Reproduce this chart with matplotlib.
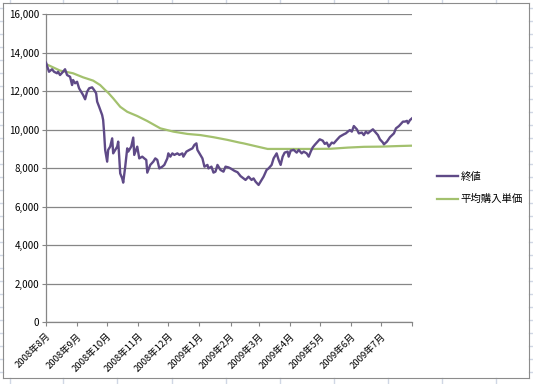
import matplotlib
matplotlib.use("Agg")
import matplotlib.pyplot as plt
import matplotlib.dates as mdates
from matplotlib.lines import Line2D
from matplotlib.ticker import FuncFormatter, MultipleLocator
import pandas as pd

plt.rcParams['font.family'] = ['Noto Sans CJK JP', 'DejaVu Sans']

start = pd.Timestamp("2008-08-01")
end = pd.Timestamp("2009-08-01")

# closing price: (days since 2008-08-01, value)
close_days = [0, 3, 6, 8, 11, 12, 14, 17, 19, 21, 24, 26, 27, 29, 31, 33, 36, 37, 39, 41,
              43, 46, 48, 50, 51, 53, 56, 57, 58, 59, 61, 62, 64, 66, 67, 69, 71, 72, 73, 74,
              76, 77, 79, 81, 82, 85, 87, 88, 91, 93, 96, 98, 100, 101, 104, 107, 109, 111, 113, 116,
              118, 121, 122, 124, 126, 128, 131, 133, 136, 137, 140, 143, 146, 148, 150, 151, 154, 156, 158, 161,
              162, 165, 167, 169, 171, 174, 177, 179, 182, 184, 188, 191, 194, 197, 199, 202, 205, 207, 209, 212,
              215, 217, 220, 222, 225, 227, 230, 232, 234, 236, 238, 241, 242, 244, 247, 250, 252, 255, 257, 260,
              262, 264, 266, 268, 271, 273, 276, 278, 280, 282, 285, 287, 290, 293, 297, 299, 301, 303, 305, 307,
              310, 312, 315, 317, 319, 321, 323, 326, 328, 331, 333, 336, 337, 340, 343, 347, 349, 352, 356, 358,
              360, 361, 363, 365]
close_vals = [13470, 13000, 13130, 13000, 12920, 13000, 12830, 13000, 13130, 12830, 12740, 12310, 12570, 12400, 12480, 12140, 11880, 11790, 11570, 11960,
              12140, 12190, 12050, 11880, 11450, 11180, 10750, 10490, 9800, 8940, 8330, 8940, 9110, 9540, 8760, 8940, 9110, 9370, 8590, 7720,
              7460, 7240, 8070, 9020, 8850, 9110, 9580, 8680, 9110, 8500, 8590, 8500, 8420, 7760, 8160, 8330, 8500, 8420, 7980, 8070,
              8160, 8500, 8760, 8590, 8760, 8680, 8760, 8680, 8760, 8590, 8850, 8940, 9020, 9200, 9280, 8940, 8680, 8500, 8070, 8160,
              7980, 8070, 7760, 7810, 8160, 7900, 7810, 8070, 8030, 7980, 7850, 7780, 7580, 7460, 7380, 7550, 7380, 7460, 7290, 7120,
              7380, 7550, 7900, 7980, 8160, 8500, 8760, 8420, 8160, 8590, 8800, 8850, 8590, 8900, 8940, 8800, 8940, 8760, 8850, 8760,
              8590, 8850, 9070, 9200, 9370, 9490, 9420, 9250, 9320, 9110, 9320, 9280, 9460, 9630, 9750, 9800, 9890, 9970, 9890, 10180,
              10010, 9800, 9840, 9710, 9890, 9800, 9890, 10010, 9890, 9710, 9490, 9320, 9230, 9370, 9600, 9800, 10060, 10180, 10410, 10410,
              10450, 10320, 10490, 10580]

# average purchase price
avg_days = [0, 14, 27, 37, 47, 54, 59, 62, 67, 74, 81, 91, 101, 114, 127, 141, 154, 167, 181, 193,
            197, 211, 221, 234, 251, 267, 284, 301, 317, 334, 351, 365]
avg_vals = [13400, 13060, 12920, 12710, 12540, 12310, 12050, 11910, 11620, 11180, 10920, 10700, 10440, 10060, 9890, 9770, 9710, 9600, 9460, 9320,
            9280, 9110, 8990, 8990, 8990, 8990, 9000, 9060, 9100, 9110, 9140, 9160]

series_names = ["終値", "平均購入単価"]
colors = ["#5F4A87", "#A3C16E"]

close_dates = [start + pd.Timedelta(days=d) for d in close_days]
avg_dates = [start + pd.Timedelta(days=d) for d in avg_days]

W, H = 533, 384
fig = plt.figure(figsize=(W / 100, H / 100), dpi=100)
fig.patch.set_facecolor("white")

# spreadsheet background lines outside chart area
grid_c = "#D0D7E5"
def hline(y0, x0, x1, c, lw=1.0):
    fig.add_artist(Line2D([x0 / W, x1 / W], [1 - y0 / H, 1 - y0 / H], color=c, lw=lw))
def vline(x0, y0, y1, c, lw=1.0):
    fig.add_artist(Line2D([x0 / W, x0 / W], [1 - y0 / H, 1 - y1 / H], color=c, lw=lw))

for y in range(8, 384, 13):
    hline(y, 0, 3, grid_c)
    hline(y, 529, 533, grid_c)
for x in [10, 63, 117, 172, 226, 280, 334, 388, 442, 496]:
    vline(x, 378, 384, grid_c)
    vline(x, 0, 3, grid_c)
# chart border
border_c = "#8C8C8C"
hline(3, 3, 529, border_c, 0.8)
hline(378, 3, 529, border_c, 0.8)
vline(3, 3, 378, border_c, 0.8)
vline(529, 3, 378, border_c, 0.8)

ax = fig.add_axes([46 / W, 1 - 322 / H, (412 - 46) / W, (322 - 14) / H])
ax.plot(close_dates, close_vals, color=colors[0], lw=1.7, label=series_names[0], zorder=3)
ax.plot(avg_dates, avg_vals, color=colors[1], lw=1.6, label=series_names[1], zorder=2)

ax.set_xlim(start, end)
ax.set_ylim(0, 16000)
ax.yaxis.set_major_locator(MultipleLocator(2000))
ax.yaxis.set_major_formatter(FuncFormatter(lambda v, p: f"{int(v):,}"))
ax.grid(axis="y", color="#868686", lw=0.9)
ax.set_axisbelow(True)

month_ticks = pd.date_range("2008-08-01", "2009-08-01", freq="MS")
ax.set_xticks(month_ticks)
labels = [f"{d.year}年{d.month}月" for d in month_ticks[:-1]] + [""]
ax.set_xticklabels(labels, rotation=45, ha="right", va="top", rotation_mode="anchor", fontsize=6.8)

for s in ["top", "right"]:
    ax.spines[s].set_visible(False)
for s in ["left", "bottom"]:
    ax.spines[s].set_color("#868686")
    ax.spines[s].set_linewidth(0.9)
ax.tick_params(axis="both", colors="#868686", length=3, width=0.8, labelcolor="black")
ax.tick_params(axis="y", labelsize=7, pad=2)
ax.tick_params(axis="x", pad=4)

fig.legend(handles=ax.get_lines(), labels=series_names, loc="center left",
           bbox_to_anchor=(428 / W, 1 - 188 / H), frameon=False, fontsize=7.5,
           handlelength=2.0, handletextpad=0.2, labelspacing=1.2)

fig.savefig("out.png", dpi=100, facecolor="white")
